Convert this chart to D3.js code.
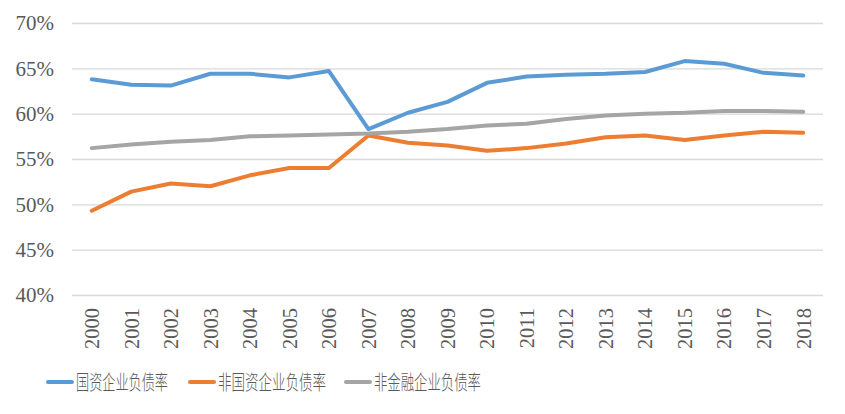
<!DOCTYPE html>
<html>
<head>
<meta charset="utf-8">
<script src="https://cdn.jsdelivr.net/npm/d3@7"></script>
<style>
  body { margin: 0; background: #fff; }
  svg { display: block; }
  .serif { font-family: "Liberation Serif", "Times New Roman", "DejaVu Serif", serif; }
</style>
</head>
<body>
<svg id="chart" width="845" height="414"></svg>
<script>
const years = ["2000","2001","2002","2003","2004","2005","2006","2007","2008","2009",
  "2010","2011","2012","2013","2014","2015","2016","2017","2018"];
const stateOwned = [63.8, 63.2, 63.1, 64.4, 64.4, 64.0, 64.7, 58.3, 60.1, 61.3,
  63.4, 64.1, 64.3, 64.4, 64.6, 65.8, 65.5, 64.5, 64.2];
const nonStateOwned = [49.3, 51.4, 52.3, 52.0, 53.2, 54.0, 54.0, 57.6, 56.8, 56.5,
  55.9, 56.2, 56.7, 57.4, 57.6, 57.1, 57.6, 58.0, 57.9];
const nonFinancial = [56.2, 56.6, 56.9, 57.1, 57.5, 57.6, 57.7, 57.8, 58.0, 58.3,
  58.7, 58.9, 59.4, 59.8, 60.0, 60.1, 60.3, 60.3, 60.2];
const seriesNames = ["国资企业负债率", "非国资企业负债率", "非金融企业负债率"];
const yTicks = [40, 45, 50, 55, 60, 65, 70];

const colors = ["#5B9BD5", "#ED7D31", "#A5A5A5"];
const allSeries = [stateOwned, nonStateOwned, nonFinancial];

const svg = d3.select("#chart");
const margin = {left: 72, right: 22, top: 23, bottom: 119};
const width = 845, height = 414;

const x = d3.scalePoint()
  .domain(years)
  .range([margin.left, width - margin.right])
  .padding(0.5);

const y = d3.scaleLinear()
  .domain([40, 70])
  .range([height - margin.bottom, margin.top]);

// gridlines + y labels
const yAxis = svg.append("g")
  .attr("transform", `translate(${margin.left},0)`)
  .call(d3.axisLeft(y).tickValues(yTicks).tickSize(-(width - margin.left - margin.right))
    .tickFormat(d => d + "%").tickPadding(18));
yAxis.select(".domain").remove();
yAxis.attr("font-family", null).attr("font-size", null);
yAxis.selectAll("line").attr("stroke", "#d9d9d9").attr("stroke-width", 1.3);
yAxis.selectAll("text")
  .attr("class", "serif")
  .style("font-size", "21px")
  .attr("fill", "#595959");

// x labels (rotated)
const xAxis = svg.append("g")
  .attr("transform", `translate(0,${height - margin.bottom})`)
  .call(d3.axisBottom(x).tickSize(0));
xAxis.select(".domain").remove();
xAxis.attr("font-family", null).attr("font-size", null);
xAxis.selectAll("text")
  .attr("class", "serif")
  .style("font-size", "20.5px")
  .attr("fill", "#595959")
  .attr("text-anchor", "end")
  .attr("dy", "0.33em")
  .attr("transform", "translate(0,13) rotate(-90)")
  .attr("x", 0)
  .attr("y", 0);

// lines
const line = d3.line()
  .x((d, i) => x(years[i]))
  .y(d => y(d));

svg.selectAll("path.series")
  .data(allSeries)
  .join("path")
  .attr("class", "series")
  .attr("d", line)
  .attr("fill", "none")
  .attr("stroke", (d, i) => colors[i])
  .attr("stroke-width", 4)
  .attr("stroke-linejoin", "round")
  .attr("stroke-linecap", "round");

// legend
const legendX = [48, 190, 346];
const legendW = [92, 108, 107];
const legend = svg.append("g");
seriesNames.forEach((name, i) => {
  const g = legend.append("g").attr("transform", `translate(${legendX[i]},382)`);
  g.append("line")
    .attr("x1", 0).attr("x2", 24)
    .attr("stroke", colors[i])
    .attr("stroke-width", 4)
    .attr("stroke-linecap", "round");
  g.append("text")
    .attr("x", 28)
    .attr("dy", "0.38em")
    .attr("textLength", legendW[i])
    .attr("lengthAdjust", "spacingAndGlyphs")
    .style("font-family", "'Noto Sans CJK SC', sans-serif")
    .style("font-size", "20px")
    .style("font-weight", 300)
    .attr("fill", "#595959")
    .text(name);
});
</script>
</body>
</html>
